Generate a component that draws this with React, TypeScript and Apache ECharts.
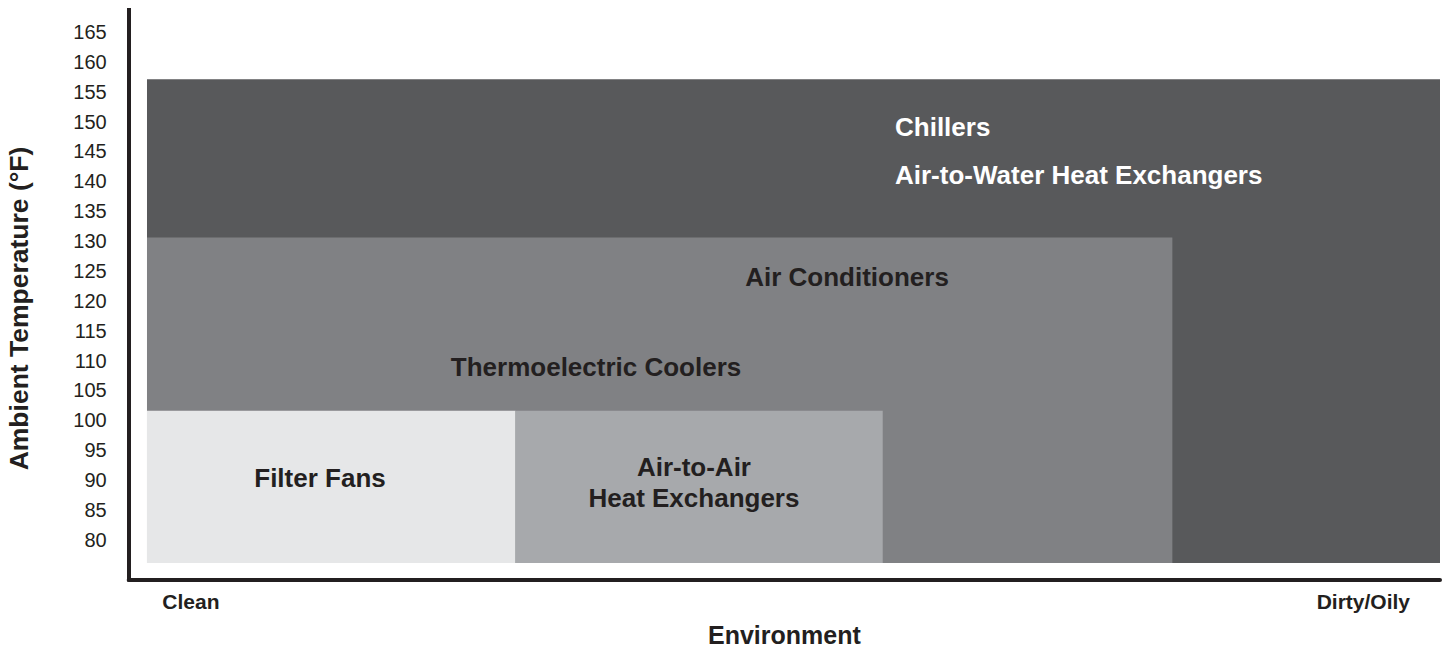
import React, { useEffect, useRef } from "react";
import * as echarts from "echarts";

// ---- data ----
const yTicks = [80, 85, 90, 95, 100, 105, 110, 115, 120, 125, 130, 135, 140, 145, 150, 155, 160, 165];

// environment axis: 0 = clean ... 100 = dirty/oily
const bandNames = ["Chillers / Air-to-Water Heat Exchangers", "Air Conditioners / Thermoelectric Coolers", "Filter Fans", "Air-to-Air Heat Exchangers"];
const bandEnvStart = [0, 0, 0, 28.5];
const bandEnvEnd = [100, 79.3, 28.5, 56.9];
const bandTempLow = [76.1, 76.1, 76.1, 76.1];
const bandTempHigh = [157.1, 130.6, 101.6, 101.6];

const labelTexts = [
  "Chillers",
  "Air-to-Water Heat Exchangers",
  "Air Conditioners",
  "Thermoelectric Coolers",
  "Filter Fans",
  "Air-to-Air\nHeat Exchangers",
];
const labelEnv = [57.85, 57.85, 54.14, 34.73, 13.38, 42.3];
const labelTemp = [149.1, 141.1, 123.9, 108.9, 90.33, 89.6];

const envTickValues = [3.4, 94.07];
const envTickLabels = ["Clean", "Dirty/Oily"];

// ---- styles ----
const bandColors = ["#58595b", "#808184", "#e6e7e8", "#a7a9ac"];
const labelColors = ["#ffffff", "#ffffff", "#231f20", "#231f20", "#231f20", "#231f20"];
const labelAligns = ["left", "left", "center", "center", "center", "center"];
const FONT = "'Liberation Sans', Arial, Helvetica, sans-serif";
const INK = "#231f20";

export default function App() {
  const ref = useRef<HTMLDivElement>(null);

  useEffect(() => {
    if (!ref.current) return;
    const chart = echarts.init(ref.current, undefined, { renderer: "svg" });

    const bandData = bandNames.map((n, i) => ({
      name: n,
      value: [bandEnvStart[i], bandEnvEnd[i], bandTempLow[i], bandTempHigh[i]],
    }));
    const labelData = labelTexts.map((t, i) => ({ name: t, value: [labelEnv[i], labelTemp[i]] }));

    const option: any = {
      animation: false,
      backgroundColor: "#ffffff",
      textStyle: { fontFamily: FONT },
      grid: { left: 128.7, right: 8, top: 10, bottom: 70.5, containLabel: false, outerBoundsMode: "none" },
      xAxis: {
        type: "value",
        min: -1.415,
        max: 100,
        name: "Environment",
        nameLocation: "middle",
        nameGap: 44.5,
        nameTextStyle: { fontFamily: FONT, fontSize: 25, fontWeight: "bold", color: INK, lineHeight: 22 },
        axisLine: { show: true, onZero: false, lineStyle: { color: INK, width: 4 } },
        axisTick: { show: false },
        splitLine: { show: false },
        axisLabel: {
          customValues: envTickValues,
          margin: 11,
          fontFamily: FONT,
          fontSize: 21,
          fontWeight: "bold",
          color: INK,
          formatter: (v: number) => {
            let best = 0;
            envTickValues.forEach((tv, i) => {
              if (Math.abs(tv - v) < Math.abs(envTickValues[best] - v)) best = i;
            });
            return envTickLabels[best];
          },
        },
      },
      yAxis: {
        type: "value",
        min: 73.34,
        max: 168.68,
        axisLine: { show: true, onZero: false, lineStyle: { color: INK, width: 4, cap: "square" } },
        axisTick: { show: false },
        splitLine: { show: false },
        axisLabel: {
          customValues: yTicks,
          margin: 22,
          fontFamily: FONT,
          fontSize: 20,
          color: INK,
        },
      },
      graphic: [
        {
          type: "text",
          x: 19,
          y: 308.5,
          rotation: Math.PI / 2,
          style: {
            text: "Ambient Temperature (°F)",
            fontFamily: FONT,
            fontSize: 26.5,
            fontWeight: "bold",
            fill: INK,
            align: "center",
            verticalAlign: "middle",
          },
        },
      ],
      series: [
        {
          type: "custom",
          name: "bands",
          encode: { x: [0, 1], y: [2, 3] },
          data: bandData,
          renderItem: (params: any, api: any) => {
            const p0 = api.coord([api.value(0), api.value(3)]);
            const p1 = api.coord([api.value(1), api.value(2)]);
            return {
              type: "rect",
              shape: { x: p0[0], y: p0[1], width: p1[0] - p0[0], height: p1[1] - p0[1] },
              style: { fill: bandColors[params.dataIndex] },
            };
          },
          z: 1,
        },
        {
          type: "custom",
          name: "labels",
          encode: { x: 0, y: 1 },
          data: labelData,
          renderItem: (params: any, api: any) => {
            const i = params.dataIndex;
            const p = api.coord([api.value(0), api.value(1)]);
            return {
              type: "text",
              x: p[0],
              y: p[1],
              style: {
                text: labelTexts[i],
                fill: labelColors[i],
                fontFamily: FONT,
                fontSize: 26,
                fontWeight: "bold",
                align: labelAligns[i],
                verticalAlign: "middle",
                lineHeight: 31,
              },
            };
          },
          z: 2,
        },
      ],
    };

    chart.setOption(option);
    return () => chart.dispose();
  }, []);

  return (
    <div
      ref={ref}
      style={{ position: "fixed", left: 0, top: 0, width: 1448, height: 650 }}
    />
  );
}
